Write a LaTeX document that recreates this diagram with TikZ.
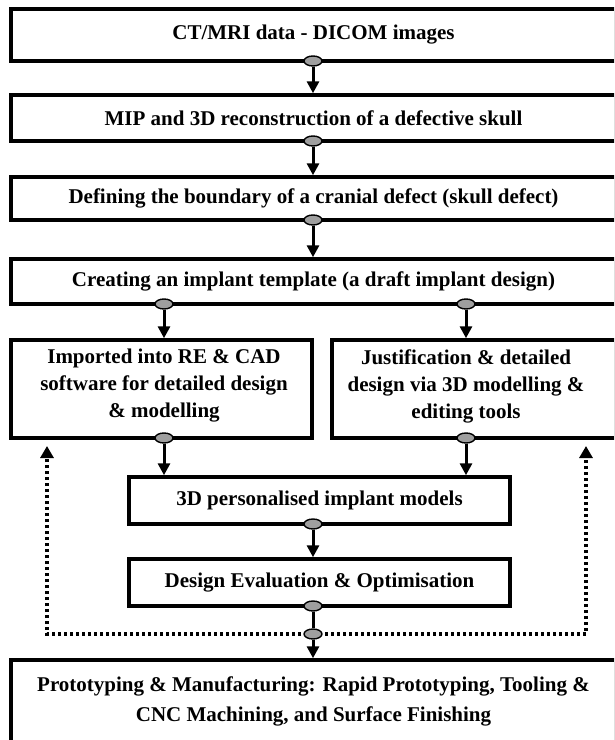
\documentclass[tikz,border=0pt]{standalone}
\usepackage{fontspec}
\setmainfont{Liberation Serif}
\usetikzlibrary{arrows.meta,shapes.geometric}
\begin{document}
\begin{tikzpicture}[x=1pt,y=-1pt,
  box/.style={draw=black,line width=3.5pt,fill=white,inner sep=0pt,
    font=\fontsize{21}{27}\selectfont\bfseries,align=center},
  txt/.style={inner sep=0pt,font=\fontsize{21}{27}\selectfont\bfseries,align=center},
  knob/.style={ellipse,draw=black,line width=1.4pt,fill=gray!75,
    minimum width=18pt,minimum height=10pt,inner sep=0pt},
  arr/.style={line width=3pt,-{Triangle[length=12pt,width=12pt]}},
  plain/.style={line width=3pt},
  dotarr/.style={line width=3.4pt,dash pattern=on 3pt off 3pt,
    -{Triangle[length=12pt,width=13pt]}}]
\useasboundingbox (0,0) rectangle (614,740);
\clip (0,0) rectangle (614,740);
\fill[white] (0,0) rectangle (614,740);

% boxes
\node[box,minimum width=605pt,minimum height=52pt] (b1) at (313.5,35) {CT/MRI data - DICOM images};
\node[box,minimum width=605pt,minimum height=46pt] (b2) at (313.5,118) {MIP and 3D reconstruction of a defective skull};
\node[box,minimum width=605pt,minimum height=43pt] (b3) at (313.5,198.5) {Defining the boundary of a cranial defect (skull defect)};
\node[box,minimum width=605pt,minimum height=45pt] (b4) at (313.5,281.5) {Creating an implant template (a draft implant design)};
\node[box,minimum width=301pt,minimum height=98pt] (b5l) at (161.5,389) {};
\node[txt] (t5l) at (164,386) {Imported into RE \& CAD\\software for detailed design\\\& modelling};
\node[box,minimum width=284pt,minimum height=98pt] (b5r) at (474,389) {};
\node[txt] (t5r) at (466,386) {Justification \& detailed\\design via 3D modelling \&\\editing tools};
\node[box,minimum width=381pt,minimum height=47pt] (b6) at (319.5,500.5) {3D personalised implant models};
\node[box,minimum width=381pt,minimum height=47pt] (b7) at (319.5,582.5) {Design Evaluation \& Optimisation};
\node[box,minimum width=605pt,minimum height=83pt,font=\fontsize{21}{30}\selectfont\bfseries] (b8) at (313.5,701.5) {Prototyping \& Manufacturing: Rapid Prototyping, Tooling \&\\CNC Machining, and Surface Finishing};

% knobs
\node[knob] (k1) at (313,61) {};
\node[knob] (k2) at (313,141) {};
\node[knob] (k3) at (313,220) {};
\node[knob] (k4l) at (164,304) {};
\node[knob] (k4r) at (466,304) {};
\node[knob] (k5l) at (164,438) {};
\node[knob] (k5r) at (466,438) {};
\node[knob] (k6) at (313,524) {};
\node[knob] (k7) at (313,606) {};
\coordinate (fl) at (47,446);
\coordinate (fr) at (586,446);

% feedback dotted lines
\draw[dotarr] (313,634) -| (fl);
\draw[dotarr] (313,634) -| (fr);
\node[knob] (km) at (313,634) {};

% arrows
\draw[arr] (k1.south) -- (k1.south |- b2.north);
\draw[arr] (k2.south) -- (k2.south |- b3.north);
\draw[arr] (k3.south) -- (k3.south |- b4.north);
\draw[arr] (k4l.south) -- (k4l.south |- b5l.north);
\draw[arr] (k4r.south) -- (k4r.south |- b5r.north);
\draw[arr] (k5l.south) -- (k5l.south |- b6.north);
\draw[arr] (k5r.south) -- (k5r.south |- b6.north);
\draw[arr] (k6.south) -- (k6.south |- b7.north);
\draw[plain] (k7.south) -- (km.north);
\draw[arr] (km.south) -- (km.south |- b8.north);
\end{tikzpicture}
\end{document}
